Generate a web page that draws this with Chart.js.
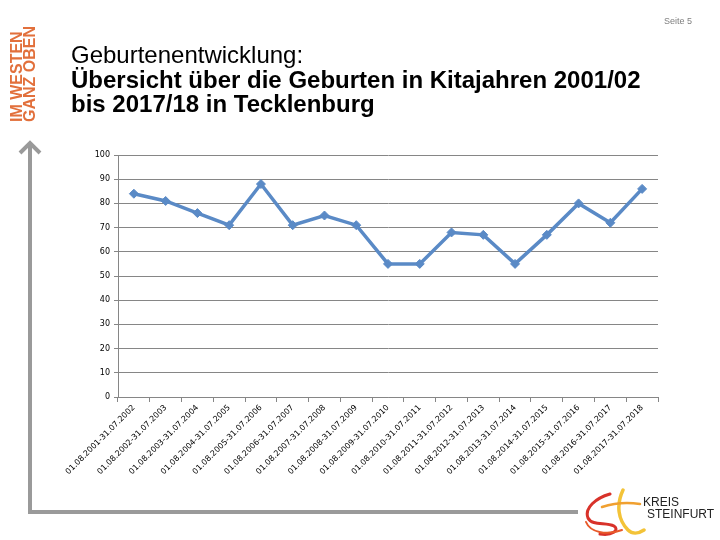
<!DOCTYPE html>
<html lang="de">
<head>
<meta charset="utf-8">
<title>Geburtenentwicklung Tecklenburg</title>
<script src="https://cdn.jsdelivr.net/npm/chart.js@4.4.1/dist/chart.umd.min.js"></script>
<style>
  html, body { margin: 0; padding: 0; background: #fff; }
  #seite { position: relative; width: 720px; height: 540px; overflow: hidden; font-family: "Liberation Sans", Arial, sans-serif; }
  #grafik { position: absolute; left: 0; top: 0; }
  #deko { position: absolute; left: 0; top: 0; }
  .seitenzahl { position: absolute; right: 28px; top: 16px; font-size: 9px; color: #7f7f7f; }
  .claim { position: absolute; left: 0; top: 0; white-space: nowrap; transform-origin: 0 0; transform: translate(9.5px, 122px) rotate(-90deg);
           font-weight: bold; font-size: 16px; line-height: 13px; color: #e2703c; }
  .titel { position: absolute; left: 71px; top: 43px; font-size: 24px; line-height: 24.5px; color: #000; white-space: nowrap; }
  .titel b { font-weight: bold; }
  .kreis { position: absolute; left: 643px; top: 496px; font-size: 12px; line-height: 12px; color: #222; }
  .kreis span { display: block; }
  .kreis span + span { margin-left: 4px; }
</style>
</head>
<body>
<div id="seite">
  <canvas id="grafik" width="720" height="540"></canvas>
  <svg id="deko" width="720" height="540">
    <!-- Pfeil links und unten -->
    <polyline points="30,143 30,512 578,512" fill="none" stroke="#9a9a9a" stroke-width="4"/>
    <polyline points="20,153 30,143 40,153" fill="none" stroke="#9a9a9a" stroke-width="4"/>
    <!-- Logo-Schwung (grob) -->
    <path d="M610 494 C596 498 584 508 588 518 C592 526 606 522 614 526 C620 530 612 536 600 534" fill="none" stroke="#d8322a" stroke-width="3" stroke-linecap="round"/>
    <path d="M586 522 C590 532 606 536 622 530" fill="none" stroke="#e85a2a" stroke-width="2" stroke-linecap="round"/>
    <path d="M623 490 C616 505 618 520 628 530 C632 534 638 534 644 530" fill="none" stroke="#f3c338" stroke-width="3.5" stroke-linecap="round"/>
    <path d="M602 507 C614 503 628 502 640 504" fill="none" stroke="#f0a030" stroke-width="2.5" stroke-linecap="round"/>
  </svg>
  <div class="seitenzahl">Seite 5</div>
  <div class="claim">IM WESTEN<br>GANZ OBEN</div>
  <div class="titel">Geburtenentwicklung:<br><b>Übersicht über die Geburten in Kitajahren 2001/02<br>bis 2017/18 in Tecklenburg</b></div>
  <div class="kreis"><span>KREIS</span><span>STEINFURT</span></div>
</div>
<script>
// Kitajahre (jeweils 01.08. bis 31.07.)
const kitajahre = [
  '01.08.2001-31.07.2002', '01.08.2002-31.07.2003', '01.08.2003-31.07.2004',
  '01.08.2004-31.07.2005', '01.08.2005-31.07.2006', '01.08.2006-31.07.2007',
  '01.08.2007-31.07.2008', '01.08.2008-31.07.2009', '01.08.2009-31.07.2010',
  '01.08.2010-31.07.2011', '01.08.2011-31.07.2012', '01.08.2012-31.07.2013',
  '01.08.2013-31.07.2014', '01.08.2014-31.07.2015', '01.08.2015-31.07.2016',
  '01.08.2016-31.07.2017', '01.08.2017-31.07.2018'
];

// Geburten pro Kitajahr
const geburten = [84, 81, 76, 71, 88, 71, 75, 71, 55, 55, 68, 67, 55, 67, 80, 72, 86];

// Achse links
const yMin = 0;
const yMax = 100;
const ySchritt = 10;

const grau = '#868686';
const blau = '#5a8ac6';

new Chart(document.getElementById('grafik'), {
  type: 'line',
  data: {
    labels: kitajahre,
    datasets: [{
      data: geburten,
      borderColor: blau,
      backgroundColor: blau,
      borderWidth: 3.5,
      pointStyle: 'rectRot',
      pointRadius: 4.5,
      pointBorderWidth: 1,
      tension: 0
    }]
  },
  options: {
    responsive: false,
    animation: false,
    layout: { padding: { left: 0, top: 155, right: 62, bottom: 0 } },
    plugins: {
      legend: { display: false },
      tooltip: { enabled: false }
    },
    scales: {
      x: {
        offset: true,
        grid: { display: true, drawOnChartArea: false, offset: true, tickLength: 5, color: grau },
        border: { color: grau },
        ticks: {
          autoSkip: false, minRotation: 45, maxRotation: 45, padding: 1,
          color: '#000', font: { family: 'DejaVu Sans', size: 8 }
        },
        afterFit: function(s) { s.height = 143; }
      },
      y: {
        min: yMin, max: yMax,
        grid: { color: grau, tickLength: 4 },
        border: { color: grau },
        ticks: {
          stepSize: ySchritt, padding: 4,
          color: '#000', font: { family: 'DejaVu Sans', size: 8 }
        },
        afterFit: function(s) { s.width = 118; }
      }
    }
  }
});
</script>
</body>
</html>
